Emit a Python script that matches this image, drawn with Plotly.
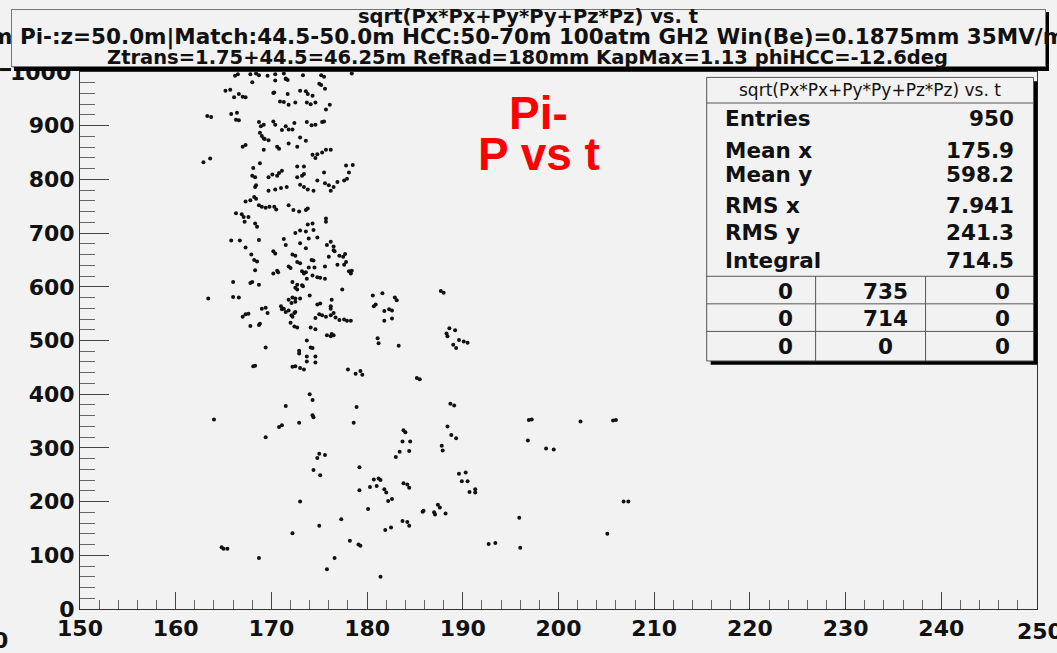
import plotly.graph_objects as go

# ---------------- data (t, |P|) ----------------
t_b1 = [166.2,166.5,167.8,168.4,168.7,169.6,170.4,171.5,171.3,173.3,175.2,175.5,178.4,
        168.0,170.4,171.5,171.7,
        165.2,165.7,166.1,166.6,167.0,167.3,170.3,170.2,171.7,173.0,173.6,173.8,174.3,175.0,175.2,175.6,
        170.9,171.3,171.8,172.5,173.7,174.1,174.6,176.1,175.7,
        163.3,163.7,165.8,166.4,166.3,166.6]
p_b1 = [993,996,996,997,994,993,996,988,997,994,994,991,997,
        981,984,987,985,
        965,967,953,959,954,953,962,961,959,965,964,959,956,978,976,969,
        945,944,939,943,943,940,943,939,930,
        918,916,922,924,911,910]

t_b2 = [168.7,169.2,168.9,170.2,170.4,171.5,171.8,172.4,172.2,171.1,173.7,174.2,174.6,175.3,175.5,
        168.8,169.0,169.3,169.7,169.2,173.0,173.6,
        167.0,167.3,169.2,170.6,170.8,171.8,172.7,174.3,174.8,175.3,175.7,176.2,174.6,
        162.9,163.6,168.8,168.1,172.7,173.4,175.5,177.8,178.5,178.1,
        168.0,168.3,169.7,170.1,170.6,170.8,171.1,172.7,173.2,173.4]
p_b2 = [907,902,899,908,902,899,893,905,893,892,907,901,902,907,908,
        887,881,875,873,876,878,872,
        861,864,855,861,857,867,861,846,847,850,855,855,840,
        832,839,830,821,824,824,813,826,827,813,
        807,804,804,809,807,812,816,804,807,810]

t_b3 = [168.3,168.4,169.7,170.4,171.0,171.6,173.0,173.4,173.8,174.4,174.8,175.6,176.0,176.2,176.5,176.9,177.6,177.9,
        167.3,167.8,168.2,168.4,168.7,169.0,169.4,169.8,170.3,170.5,171.8,172.3,172.9,173.6,173.8,
        166.3,166.9,167.1,167.6,167.2,168.3,168.5,173.8,174.3,175.7,175.7,172.5,173.0,173.6,173.9,174.4,174.8,
        165.8,166.7,168.7,171.3,171.5,173.0,176.2,176.5,175.8]
p_b3 = [786,789,779,781,784,786,790,786,781,779,798,793,789,779,786,795,798,801,
        759,761,767,764,752,749,747,749,749,744,752,743,740,743,746,
        737,735,730,730,721,718,712,716,718,727,721,700,705,703,690,706,692,
        686,686,687,689,678,681,684,675,678]

t_b4 = [167.3,167.9,168.2,168.5,170.2,170.4,172.2,172.5,173.6,174.2,174.4,176.0,176.5,176.6,177.1,177.7,177.8,176.9,175.6,
        168.3,170.2,170.6,170.7,171.8,172.0,172.7,173.0,173.9,174.5,173.2,173.6,173.4,174.3,173.7,174.8,175.1,175.6,178.1,178.3,178.4,177.6,177.5,
        166.0,167.8,168.0,168.7,172.2,172.7,172.5,173.2,173.3,172.7,177.4]
p_b4 = [673,660,650,647,666,662,660,658,672,650,649,656,668,666,658,661,646,641,638,
        631,625,630,627,638,635,646,644,636,636,629,627,625,621,615,618,617,615,629,625,630,641,656,
        609,607,609,604,609,604,598,603,601,595,595]

t_b5 = [163.4,166.0,166.6,171.8,172.2,172.5,173.0,172.1,172.5,174.0,174.8,175.1,176.3,176.2,176.2,180.6,181.6,182.9,183.1,180.9,180.7,
        169.0,169.4,169.6,171.0,171.1,171.3,171.5,171.8,172.4,172.5,172.1,172.2,174.6,175.0,175.3,175.7,176.2,176.5,176.7,177.1,177.6,177.9,178.3,181.8,182.3,182.6,182.6,181.8,
        167.0,167.3,167.6,167.8,168.7,168.8,172.0,172.4,172.7,174.1,174.6,175.8,176.2,176.5,176.3,173.7]
p_b5 = [578,581,580,576,580,578,578,570,572,584,567,569,576,564,559,584,588,580,575,567,564,
        559,561,551,564,558,559,553,556,551,553,547,544,542,549,547,544,547,551,543,538,539,537,537,555,558,556,541,537,
        544,549,550,527,529,531,533,526,524,524,521,510,508,510,512,500]

t_b6 = [169.4,172.9,172.9,174.1,174.3,173.7,173.7,174.6,174.6,181.1,181.2,183.3,
        168.1,168.3,172.2,172.5,173.0,173.4,178.0,178.8,179.3,179.5,174.0,
        187.7,188.0,188.6,189.2,188.3,188.4,189.6,190.1,190.5,189.0,189.3,185.2,185.5]
p_b6 = [487,481,476,487,486,470,461,470,459,504,495,490,
        452,453,451,452,449,446,446,438,443,436,400,
        592,589,523,519,513,508,501,498,496,492,486,430,428]

t_b7 = [174.3,171.5,178.9,174.3,174.4,172.9,178.6,164.0,170.8,171.1,169.4,
        175.0,175.6,174.8,174.4,175.1,179.2,
        183.8,184.0,183.7,184.5,183.4,184.4,183.0,
        188.7,189.1,188.8,189.3,188.4,187.8,187.9,
        196.9,197.2,196.8,198.7,199.5,202.3,205.7,206.0]
p_b7 = [389,378,376,361,357,347,347,353,339,342,320,
        289,287,281,259,249,264,
        333,329,312,312,293,294,283,
        382,379,324,318,340,304,295,
        352,353,314,299,297,349,351,352]

t_b8 = [180.7,181.2,181.4,180.3,181.0,181.8,182.0,179.2,182.2,182.6,183.8,184.2,184.4,
        189.6,190.3,189.9,190.5,190.7,191.3,191.3,
        173.0,180.1,177.3,175.0,172.2,178.2,179.1,179.3,
        181.9,182.5,183.7,184.2,184.4,185.9,185.8,187.0,187.1,187.4,187.6,188.2,
        164.8,165.0,165.4,168.7,176.6,175.8,181.4,
        195.9,196.0,192.7,193.4,206.8,207.3,205.1]
p_b8 = [241,243,240,227,229,223,217,221,201,205,234,232,226,
        252,254,238,238,218,223,217,
        200,186,167,155,141,127,120,118,
        147,152,164,162,155,183,181,180,176,194,189,178,
        115,112,112,95,95,74,60,
        170,114,121,123,200,200,140]

x_ticks = [150,160,170,180,190,200,210,220,230,240,250]
y_ticks = [0,100,200,300,400,500,600,700,800,900,1000]

title_lines = ["sqrt(Px*Px+Py*Py+Pz*Pz) vs. t",
               "m Pi-:z=50.0m|Match:44.5-50.0m HCC:50-70m 100atm GH2 Win(Be)=0.1875mm 35MV/m",
               "Ztrans=1.75+44.5=46.25m RefRad=180mm KapMax=1.13 phiHCC=-12.6deg"]
stats_title = "sqrt(Px*Px+Py*Py+Pz*Pz) vs. t"
stats_names = ["Entries", "Mean x", "Mean y", "RMS x", "RMS y", "Integral"]
stats_values = ["950", "175.9", "598.2", "7.941", "241.3", "714.5"]
overflow_grid = [["0", "735", "0"], ["0", "714", "0"], ["0", "0", "0"]]
label_lines = ["Pi-", "P vs t"]

# ---------------- assemble ----------------
groups = [(t_b1, p_b1), (t_b2, p_b2), (t_b3, p_b3), (t_b4, p_b4),
          (t_b5, p_b5), (t_b6, p_b6), (t_b7, p_b7), (t_b8, p_b8)]
t_all, p_all = [], []
for i, (tt, pp) in enumerate(groups):
    if len(tt) != len(pp):
        raise ValueError(f"group {i}: {len(tt)} vs {len(pp)}")
    t_all += tt
    p_all += pp

BG = "#f2f2f2"
W, H = 1057, 653
L, R, T, B = 80, 19.5, 71.5, 36
PW, PH = W - L - R, H - T - B


def xp(px):
    return (px - L) / PW


def yp(py):
    return (H - B - py) / PH


fig = go.Figure()
fig.add_trace(go.Scatter(
    x=t_all, y=p_all, mode="markers",
    marker=dict(size=4, color="#111111", symbol="circle", line=dict(width=0)),
    hoverinfo="skip", showlegend=False))

axis_font = dict(family="DejaVu Sans", size=22, color="#111111", weight="bold")
# the end labels (1000 and 250) are drawn as annotations so they can be
# covered / clipped like in the reference
x_text = [str(v) if v != x_ticks[-1] else "" for v in x_ticks]
y_text = [str(v) if v != y_ticks[-1] else "" for v in y_ticks]
fig.update_xaxes(range=[150, 250], tickmode="array", tickvals=x_ticks,
                 ticktext=x_text,
                 ticks="inside", ticklen=17, tickwidth=1, tickcolor="#444444",
                 showline=True, linecolor="#333333", linewidth=1, mirror=True,
                 showgrid=False, zeroline=False, tickfont=axis_font,
                 minor=dict(ticks="inside", tick0=150, dtick=2, ticklen=9,
                            tickcolor="#666666", tickwidth=1, showgrid=False))
fig.update_yaxes(range=[0, 1000], tickmode="array", tickvals=y_ticks,
                 ticktext=y_text,
                 ticks="inside", ticklen=29, tickwidth=1, tickcolor="#444444",
                 showline=True, linecolor="#333333", linewidth=1, mirror=True,
                 showgrid=False, zeroline=False, tickfont=axis_font,
                 minor=dict(ticks="inside", tick0=0, dtick=20, ticklen=15,
                            tickcolor="#666666", tickwidth=1, showgrid=False))

shapes = []
def rect(x0, y0, x1, y1, fill, line_color=None, lw=0):
    shapes.append(dict(type="rect", xref="paper", yref="paper", layer="above",
                       x0=xp(x0), x1=xp(x1), y0=yp(y1), y1=yp(y0),
                       fillcolor=fill,
                       line=dict(color=line_color or fill, width=lw)))

def hline(x0, x1, y, color="#555555", w=1):
    shapes.append(dict(type="line", xref="paper", yref="paper", layer="above",
                       x0=xp(x0), x1=xp(x1), y0=yp(y), y1=yp(y),
                       line=dict(color=color, width=w)))

def vline(x, y0, y1, color="#555555", w=1):
    shapes.append(dict(type="line", xref="paper", yref="paper", layer="above",
                       x0=xp(x), x1=xp(x), y0=yp(y0), y1=yp(y1),
                       line=dict(color=color, width=w)))

hline(0, 11, 69, "#111111", 3)
# stats box with shadow
rect(711, 81, 1038, 369, "#000000")
rect(707, 77, 1034, 365, BG, "#555555", 1)
hline(707, 1034, 103)
for yy in (279, 307, 335):
    hline(707, 1034, yy)
for xx in (816, 926):
    vline(xx, 279, 365)

ann = []
def text(s, px, py, size, xanchor="center", family="DejaVu Sans", weight="bold", color="#111111"):
    ann.append(dict(text=s, x=xp(px), y=yp(py), xref="paper", yref="paper",
                    xanchor=xanchor, yanchor="middle", showarrow=False,
                    font=dict(family=family, size=size, color=color, weight=weight)))

def box(x0, y0, x1, y1, fill, border=None):
    bw = 1 if border else 0
    ann.append(dict(text=" ", x=xp(x0), y=yp(y0), xref="paper", yref="paper",
                    xanchor="left", yanchor="top", showarrow=False,
                    width=x1 - x0 - 2 * bw, height=y1 - y0 - 2 * bw,
                    borderpad=0, bgcolor=fill,
                    bordercolor=border or fill, borderwidth=bw,
                    font=dict(size=1)))

# top end labels (partly hidden by the title box, as in the reference)
text(str(y_ticks[-1]), 73, 72, 22, xanchor="right")
text(str(x_ticks[-1]), 1015, 640, 22, xanchor="left")

# title box with shadow, drawn over the "1000" label
box(14, 11, 1049, 70, "#000000")
box(11, 8, 1046, 66, BG, "#777777")

for s, cy, fs in zip(title_lines, (15, 36, 57), (19.5, 21.5, 19.5)):
    text(s, 528, cy, fs)

text(stats_title, 870, 90, 17, weight="normal")
for name, val, cy in zip(stats_names, stats_values, (119, 151, 176, 207, 235, 263)):
    text(name, 723, cy, 21.5, xanchor="left")
    text(val, 1016, cy, 21.5, xanchor="right")
for row, cy in zip(overflow_grid, (294, 322, 350)):
    for s, cx in zip(row, (786, 886, 1003)):
        text(s, cx, cy, 21.5)

for s, cy in zip(label_lines, (113, 155)):
    text(s, 539, cy, 46, family="Liberation Sans", color="#ff0000")

text("0", 0, 649, 22)

fig.update_layout(width=W, height=H, margin=dict(l=L, r=R, t=T, b=B, pad=0),
                  paper_bgcolor=BG, plot_bgcolor=BG, showlegend=False,
                  shapes=shapes, annotations=ann)

fig.write_html("out.html")
